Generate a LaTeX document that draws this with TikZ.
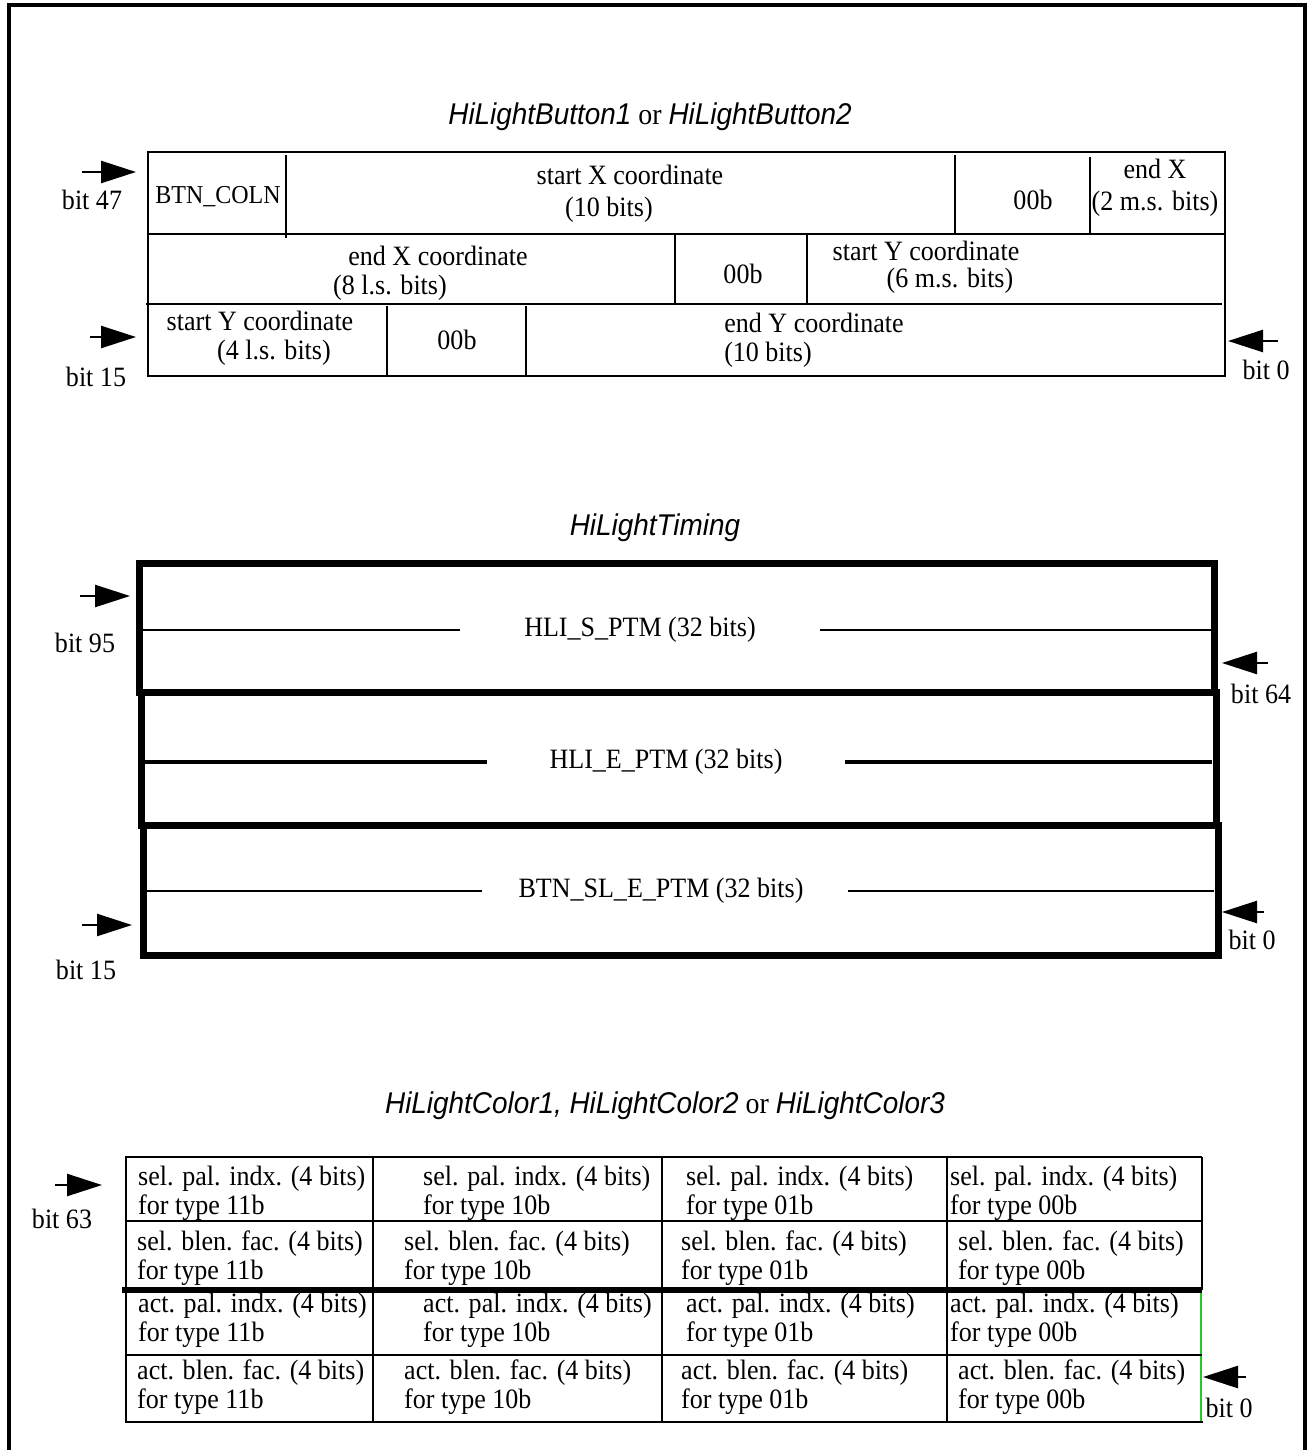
\documentclass[tikz,border=0pt]{standalone}
\usepackage{fontspec}
\setmainfont{Liberation Serif}[FakeStretch=0.93]
\setsansfont{Liberation Sans}[FakeStretch=0.93]
\usetikzlibrary{arrows.meta}
\definecolor{edgegreen}{RGB}{40,200,40}

\begin{document}
\begin{tikzpicture}[x=1pt, y=-1pt,
    txt/.style={inner sep=0pt, font=\fontsize{28}{29}\selectfont},
    cell/.style={txt, anchor=west, align=left},
    ttl/.style={inner sep=0pt, font=\fontsize{30}{32}\selectfont},
    bitarrow/.style={line width=2.5pt, -{Triangle[length=35pt, width=22pt]}},
    rule/.style={line width=2.2pt},
    fatrule/.style={line width=7pt},
]
\useasboundingbox (0,0) rectangle (1307,1450);
% outer frame, open at the bottom
\draw[line width=3.5pt] (9,1450) -- (9,5) -- (1305,5) -- (1305,1450);

% (1) HiLightButton
\node[ttl] (t1) at (650,117) {\textsf{\itshape HiLightButton1} or \textsf{\itshape HiLightButton2}};
\draw[rule] (148,152) rectangle (1225,376);
\draw[rule] (148,234) -- (1225,234);
\draw[rule] (146,304) -- (1222,304);
\draw[rule] (286,155) -- (286,238);
\draw[rule] (955,155) -- (955,234);
\draw[rule] (1090,157) -- (1090,234);
\draw[rule] (675,234) -- (675,304);
\draw[rule] (807,234) -- (807,304);
\draw[rule] (387,306) -- (387,376);
\draw[rule] (526,306) -- (526,376);
\node[txt, font=\fontsize{25.8}{28}\selectfont] (coln) at (218,197) {BTN\_COLN};
\node[txt] (sxa) at (630,175) {start X coordinate};
\node[txt] (sxb) at (609,210) {(10 bits)};
\node[txt] (zz1) at (1033,200) {00b};
\node[txt] (exa) at (1155,169) {end X};
\node[txt] (exb) at (1155,204) {(2 m.s. bits)};
\node[txt] (xla) at (438,256) {end X coordinate};
\node[txt] (xlb) at (390,288) {(8 l.s. bits)};
\node[txt] (zz2) at (743,274) {00b};
\node[txt] (yma) at (926,251) {start Y coordinate};
\node[txt] (ymb) at (950,281) {(6 m.s. bits)};
\node[txt] (yla) at (260,321) {start Y coordinate};
\node[txt] (ylb) at (274,353) {(4 l.s. bits)};
\node[txt] (zz3) at (457,340) {00b};
\node[txt] (eya) at (814,323) {end Y coordinate};
\node[txt] (eyb) at (768,355) {(10 bits)};
\coordinate (a47s) at (82,172);  \coordinate (a47e) at (136,172);
\coordinate (a15s) at (90,337);  \coordinate (a15e) at (136,337);
\coordinate (a0s) at (1278,341); \coordinate (a0e) at (1228,341);
\draw[bitarrow] (a47s) -- (a47e);
\draw[bitarrow] (a15s) -- (a15e);
\draw[bitarrow] (a0s) -- (a0e);
\node[txt] (b47) at (92,200) {bit 47};
\node[txt] (b15) at (96,377) {bit 15};
\node[txt] (b0) at (1266,370) {bit 0};

% (2) HiLightTiming
\node[ttl] (t2) at (655,528) {\textsf{\itshape HiLightTiming}};
\draw[fatrule] (139,563) rectangle (1214,692);
\draw[fatrule] (141,692) rectangle (1216,825);
\draw[fatrule] (143,825) rectangle (1218,955);
\node[txt] (hs) at (640,630) {HLI\_S\_PTM (32 bits)};
\node[txt] (he) at (666,762) {HLI\_E\_PTM (32 bits)};
\node[txt] (bs) at (661,891) {BTN\_SL\_E\_PTM (32 bits)};
\draw[rule] (143,630) -- (460,630);
\draw[rule] (820,630) -- (1211,630);
\draw[line width=3.5pt] (145,762) -- (487,762);
\draw[line width=3.5pt] (845,762) -- (1212,762);
\draw[rule] (147,891) -- (482,891);
\draw[rule] (848,891) -- (1214,891);
\coordinate (a95s) at (80,596);   \coordinate (a95e) at (130,596);
\coordinate (a64s) at (1268,663); \coordinate (a64e) at (1222,663);
\coordinate (c15s) at (82,925);   \coordinate (c15e) at (132,925);
\coordinate (c0s) at (1264,912);  \coordinate (c0e) at (1222,912);
\draw[bitarrow] (a95s) -- (a95e);
\draw[bitarrow] (a64s) -- (a64e);
\draw[bitarrow] (c15s) -- (c15e);
\draw[bitarrow] (c0s) -- (c0e);
\node[txt] (b95) at (85,643) {bit 95};
\node[txt] (b64) at (1261,694) {bit 64};
\node[txt] (d15) at (86,970) {bit 15};
\node[txt] (d0) at (1252,940) {bit 0};

% (3) HiLightColor
\node[ttl] (t3) at (665,1106) {\textsf{\itshape HiLightColor1, HiLightColor2} or \textsf{\itshape HiLightColor3}};
\draw[rule] (1202,1157) -- (126,1157) -- (126,1422) -- (1203,1422);
\draw[rule] (1202,1157) -- (1202,1290);
\draw[rule, edgegreen] (1201,1290) -- (1201,1421);
\draw[rule] (126,1221) -- (1202,1221);
\draw[rule] (126,1355) -- (1202,1355);
\draw[line width=6pt] (122,1290) -- (1202,1290);
\draw[rule] (373,1157) -- (373,1422);
\draw[rule] (662,1157) -- (662,1422);
\draw[rule] (947,1157) -- (947,1422);
\node[cell] (sp3) at (138,1193) {sel. pal. indx. (4 bits)\\for type 11b};
\node[cell] (sp2) at (423,1193) {sel. pal. indx. (4 bits)\\for type 10b};
\node[cell] (sp1) at (686,1193) {sel. pal. indx. (4 bits)\\for type 01b};
\node[cell] (sp0) at (950,1193) {sel. pal. indx. (4 bits)\\for type 00b};
\node[cell] (sb3) at (137,1258) {sel. blen. fac. (4 bits)\\for type 11b};
\node[cell] (sb2) at (404,1258) {sel. blen. fac. (4 bits)\\for type 10b};
\node[cell] (sb1) at (681,1258) {sel. blen. fac. (4 bits)\\for type 01b};
\node[cell] (sb0) at (958,1258) {sel. blen. fac. (4 bits)\\for type 00b};
\node[cell] (ap3) at (138,1320) {act. pal. indx. (4 bits)\\for type 11b};
\node[cell] (ap2) at (423,1320) {act. pal. indx. (4 bits)\\for type 10b};
\node[cell] (ap1) at (686,1320) {act. pal. indx. (4 bits)\\for type 01b};
\node[cell] (ap0) at (950,1320) {act. pal. indx. (4 bits)\\for type 00b};
\node[cell] (ab3) at (137,1387) {act. blen. fac. (4 bits)\\for type 11b};
\node[cell] (ab2) at (404,1387) {act. blen. fac. (4 bits)\\for type 10b};
\node[cell] (ab1) at (681,1387) {act. blen. fac. (4 bits)\\for type 01b};
\node[cell] (ab0) at (958,1387) {act. blen. fac. (4 bits)\\for type 00b};
\coordinate (a63s) at (55,1185);  \coordinate (a63e) at (102,1185);
\coordinate (e0s) at (1246,1377); \coordinate (e0e) at (1203,1377);
\draw[bitarrow] (a63s) -- (a63e);
\draw[bitarrow] (e0s) -- (e0e);
\node[txt] (b63) at (62,1219) {bit 63};
\node[txt] (f0) at (1229,1408) {bit 0};
\end{tikzpicture}
\end{document}
